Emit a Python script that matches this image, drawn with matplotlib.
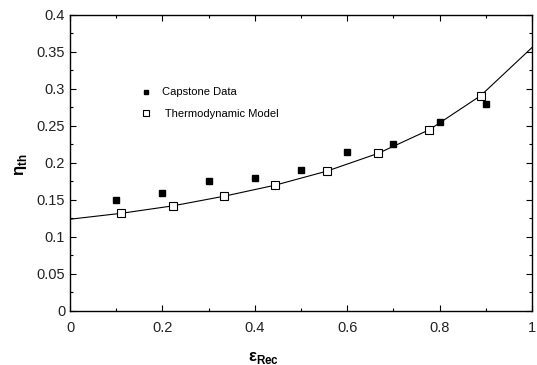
import matplotlib.pyplot as plt
from matplotlib.ticker import MultipleLocator

plt.rcParams['font.family'] = ['Liberation Sans', 'DejaVu Sans']
plt.rcParams['mathtext.fontset'] = 'custom'
plt.rcParams['mathtext.rm'] = 'Liberation Sans'
plt.rcParams['mathtext.bf'] = 'Liberation Sans:bold'

# Capstone measurements
eps_data = [0.1, 0.2, 0.3, 0.4, 0.5, 0.6, 0.7, 0.8, 0.9]
eta_data = [0.150, 0.160, 0.175, 0.180, 0.190, 0.215, 0.225, 0.255, 0.280]

# Thermodynamic model (line points and marked points)
eps_model = [0.0, 0.111, 0.222, 0.333, 0.444, 0.556, 0.667, 0.778, 0.889, 1.0]
eta_model = [0.124, 0.132, 0.142, 0.155, 0.170, 0.189, 0.213, 0.245, 0.291, 0.356]
eps_marks = eps_model[1:-1]
eta_marks = eta_model[1:-1]

xticks = [0, 0.2, 0.4, 0.6, 0.8, 1.0]
xlabels = ['0', '0.2', '0.4', '0.6', '0.8', '1']
yticks = [0, 0.05, 0.1, 0.15, 0.2, 0.25, 0.3, 0.35, 0.4]
ylabels = ['0', '0.05', '0.1', '0.15', '0.2', '0.25', '0.3', '0.35', '0.4']

fig = plt.figure(figsize=(5.37, 3.65), dpi=100)
ax = fig.add_axes([0.1304, 0.148, 0.8603, 0.811])

ax.plot(eps_model, eta_model, color='black', lw=0.8)
ax.plot(eps_data, eta_data, 's', color='black', ms=4.3, label='Capstone Data')
ax.plot(eps_marks, eta_marks, 's', mfc='white', mec='black', mew=0.8, ms=5.2,
        label=' Thermodynamic Model')

ax.set_xlim(0, 1)
ax.set_ylim(0, 0.4)
ax.set_xticks(xticks)
ax.set_xticklabels(xlabels)
ax.set_yticks(yticks)
ax.set_yticklabels(ylabels)
ax.xaxis.set_minor_locator(MultipleLocator(0.1))
ax.yaxis.set_minor_locator(MultipleLocator(0.025))
ax.tick_params(which='both', direction='in', top=True, right=True,
               labelsize=10.5, labelcolor='#222222')
ax.tick_params(which='major', length=4, width=0.8)
ax.tick_params(which='minor', length=2, width=0.8)
ax.tick_params(axis='x', pad=7)
for s in ax.spines.values():
    s.set_linewidth(1.0)

fig.text(248 / 537, 1 - 358 / 365, r'$\mathbf{ε}_{\mathbf{Rec}}$', fontsize=12,
         ha='left', va='center')
fig.text(21 / 537, 1 - 165 / 365, r'$\mathbf{η}_{\mathbf{th}}$', fontsize=12,
         ha='center', va='center', rotation=90)

ax.legend(loc='upper left', bbox_to_anchor=(0.1526, 0.755), frameon=False,
          fontsize=8, handletextpad=0.95, labelspacing=1.05, handlelength=1.0,
          borderpad=0, borderaxespad=0, markerscale=0.7)

fig.savefig('out.png', dpi=100)
